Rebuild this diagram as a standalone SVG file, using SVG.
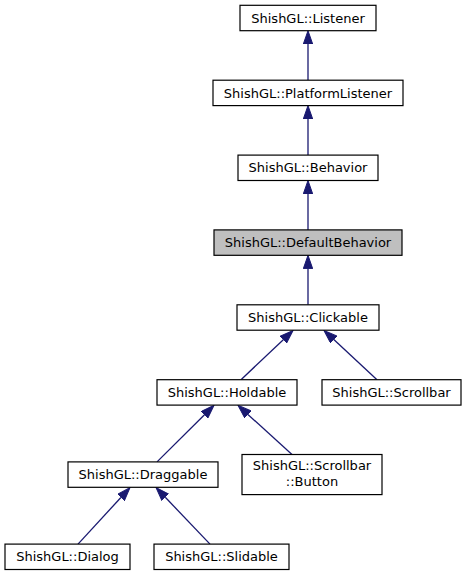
<svg xmlns="http://www.w3.org/2000/svg" width="466" height="575" viewBox="0 0 466 575">
<style>
.n rect{fill:#ffffff;stroke:#000000;stroke-width:1.2}
.n.cur rect{fill:#bfbfbf}
.n text{font-family:"DejaVu Sans",sans-serif;font-size:13px;fill:#000000;text-anchor:middle}
.e line{stroke:#191970;stroke-width:1.3;marker-end:url(#ah)}
</style>
<defs>
<marker id="ah" markerUnits="userSpaceOnUse" viewBox="0 -5 14 10" refX="0" refY="0" markerWidth="14" markerHeight="10" orient="auto">
<path d="M0,-4.7 L13.4,0 L0,4.7 Z" fill="#191970" stroke="#191970" stroke-width="1"/>
</marker>
</defs>
<rect width="466" height="575" fill="#ffffff"/>
<g id="edges" class="e">
<line x1="308" y1="80.2" x2="308" y2="44.1"/>
<line x1="308" y1="155.1" x2="308" y2="119"/>
<line x1="308" y1="229.9" x2="308" y2="193.9"/>
<line x1="308" y1="304.8" x2="308" y2="268.7"/>
<line x1="241" y1="379.7" x2="283.3" y2="339.7"/>
<line x1="377" y1="379.7" x2="333.8" y2="339.6"/>
<line x1="157" y1="461.9" x2="204.5" y2="414.8"/>
<line x1="292" y1="454.5" x2="247.9" y2="414.4"/>
<line x1="78" y1="544.1" x2="120.9" y2="497.5"/>
<line x1="210" y1="544.1" x2="165.3" y2="497.3"/>
</g>
<g id="listener" class="n"><rect x="240" y="5.3" width="136" height="25.4"/><text x="308" y="22.6">ShishGL::Listener</text></g>
<g id="platformlistener" class="n"><rect x="213" y="80.2" width="190" height="25.4"/><text x="308" y="97.5">ShishGL::PlatformListener</text></g>
<g id="behavior" class="n"><rect x="238" y="155.1" width="140" height="25.4"/><text x="308" y="172.4">ShishGL::Behavior</text></g>
<g id="defaultbehavior" class="n cur"><rect x="214" y="229.9" width="188" height="25.4"/><text x="308" y="247.2">ShishGL::DefaultBehavior</text></g>
<g id="clickable" class="n"><rect x="237" y="304.8" width="142" height="25.4"/><text x="308" y="322.1">ShishGL::Clickable</text></g>
<g id="holdable" class="n"><rect x="157" y="379.7" width="140" height="25.4"/><text x="227" y="397">ShishGL::Holdable</text></g>
<g id="scrollbar" class="n"><rect x="322" y="379.7" width="139" height="25.4"/><text x="391.5" y="397">ShishGL::Scrollbar</text></g>
<g id="draggable" class="n"><rect x="68" y="461.9" width="150" height="25.4"/><text x="143" y="479.2">ShishGL::Draggable</text></g>
<g id="scrollbarbutton" class="n"><rect x="242" y="454.5" width="140" height="40.1"/><text x="312" y="470">ShishGL::Scrollbar</text><text x="312" y="486">::Button</text></g>
<g id="dialog" class="n"><rect x="5" y="544.1" width="125" height="25.4"/><text x="67.5" y="561.4">ShishGL::Dialog</text></g>
<g id="slidable" class="n"><rect x="154" y="544.1" width="135" height="25.4"/><text x="221.5" y="561.4">ShishGL::Slidable</text></g>
</svg>
